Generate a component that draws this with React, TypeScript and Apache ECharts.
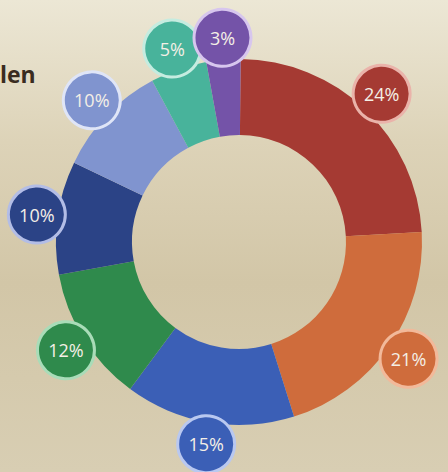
import React, { useEffect, useRef } from "react";
import * as echarts from "echarts";

const categories = ["A", "B", "C", "D", "E", "F", "G", "H"];
const shares = [24, 21, 15, 12, 10, 10, 5, 3];
const sliceColors = ["#a53a33", "#cf6c3c", "#3b5fb6", "#2f8a4c", "#2b4386", "#8094cf", "#48b39b", "#7453a8"];
const ringColors = ["#eab3aa", "#f2b99a", "#b9c8f0", "#a9dcb8", "#b3bde6", "#dfe5f7", "#c5ece0", "#d7c6ee"];
const titleFragment = "len";

export default function App() {
  const ref = useRef<HTMLDivElement>(null);
  useEffect(() => {
    document.body.style.margin = "0";
    const chart = echarts.init(ref.current!, null, { renderer: "svg" });
    const data = categories.map((name, i) => ({
      name,
      value: shares[i],
      itemStyle: { color: sliceColors[i] },
    }));
    let cum = 0;
    const bubbleData = categories.map((name, i) => {
      const mid = cum + shares[i] / 2;
      cum += shares[i];
      return {
        name,
        value: [1, mid, shares[i]],
        itemStyle: { color: sliceColors[i], borderColor: ringColors[i] },
      };
    });
    chart.setOption({
      animation: false,
      backgroundColor: {
        type: "linear",
        x: 0,
        y: 0,
        x2: 0,
        y2: 1,
        colorStops: [
          { offset: 0, color: "#ece7d5" },
          { offset: 0.3, color: "#ddd3b8" },
          { offset: 0.6, color: "#d2c6a7" },
          { offset: 1, color: "#d8ceb3" },
        ],
      },
      graphic: [
        {
          type: "text",
          left: 0,
          top: 62,
          style: {
            text: titleFragment,
            fill: "#3a2c20",
            font: "bold 23px 'Open Sans', sans-serif",
          },
        },
      ],
      polar: { center: [240, 242], radius: 205 },
      angleAxis: {
        type: "value",
        min: 0,
        max: 100,
        startAngle: 89.5,
        clockwise: true,
        show: false,
      },
      radiusAxis: { type: "value", min: 0, max: 1, show: false },
      series: [
        {
          type: "pie",
          center: [239, 242],
          radius: [107, 183],
          startAngle: 89.5,
          clockwise: true,
          silent: true,
          label: { show: false },
          labelLine: { show: false },
          data,
        },
        {
          type: "scatter",
          coordinateSystem: "polar",
          symbol: "circle",
          symbolSize: 57,
          silent: true,
          z: 5,
          itemStyle: { borderWidth: 3, opacity: 1 },
          label: {
            show: true,
            position: "inside",
            formatter: (p: any) => p.value[2] + "%",
            color: "#f4efe6",
            fontSize: 18,
            fontWeight: 500,
            fontFamily: "'Open Sans', sans-serif",
          },
          data: bubbleData,
        },
      ],
    });
    return () => chart.dispose();
  }, []);
  return <div ref={ref} style={{ width: 448, height: 472 }} />;
}
